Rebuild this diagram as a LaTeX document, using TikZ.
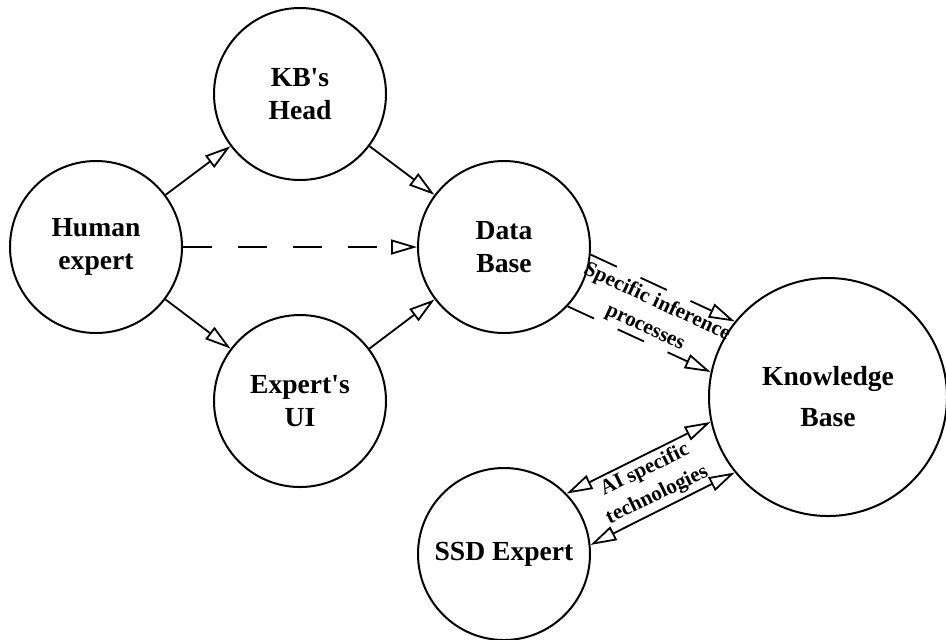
\documentclass[tikz,border=0pt]{standalone}
\usepackage{fontspec}
\setmainfont{Liberation Serif}
\usetikzlibrary{arrows.meta}

\begin{document}
\begin{tikzpicture}[
  x=0.5pt, y=-0.5pt,
  state/.style={draw, circle, line width=1pt, minimum size=86pt, inner sep=0pt, align=center, font=\fontsize{13.8}{16.5}\selectfont\bfseries},
  bigstate/.style={state, minimum size=119pt},
  arr/.style={-{Triangle[open, length=13pt, width=7.5pt]}, line width=0.9pt},
  dasharr/.style={arr, dash pattern=on 14.5pt off 13pt},
  both/.style={{Triangle[open, length=13pt, width=7.5pt]}-{Triangle[open, length=13pt, width=7.5pt]}, line width=0.9pt},
  lbl/.style={align=center, inner sep=0pt, font=\fontsize{10.6}{14}\selectfont\bfseries}
]
  \useasboundingbox (0,0) rectangle (946,639);

  \node[state] (human) at (96,247) {Human\\expert};
  \node[state] (head) at (300,94) {KB\textquotesingle s\\Head};
  \node[state] (ui) at (300,401) {Expert\textquotesingle s\\UI};
  \node[state] (db) at (504,247) {Data\\Base};
  \node[bigstate] (kb) at (828,397) {Knowledge\\[4pt]Base};
  \node[state] (ssd) at (504,554) {SSD Expert};

  \draw[arr] (human) -- (head);
  \draw[arr] (head) -- (db);
  \draw[dasharr] (human) -- (db);
  \draw[arr] (human) -- (ui);
  \draw[arr] (ui) -- (db);

  \draw[dasharr] (db.-5.8) -- (kb.141.6);
  \draw[dasharr] (db.-43.8) -- (kb.168.8);
  \draw[both] (ssd.44.9) -- (kb.192.2);
  \draw[both] (ssd.6.9) -- (kb.219.5);

  \path (db) -- node[lbl, sloped] (infer) {Specific inference\\processes} (kb);
  \path (ssd) -- node[lbl, sloped] (aitech) {AI specific\\technologies} (kb);
\end{tikzpicture}
\end{document}
